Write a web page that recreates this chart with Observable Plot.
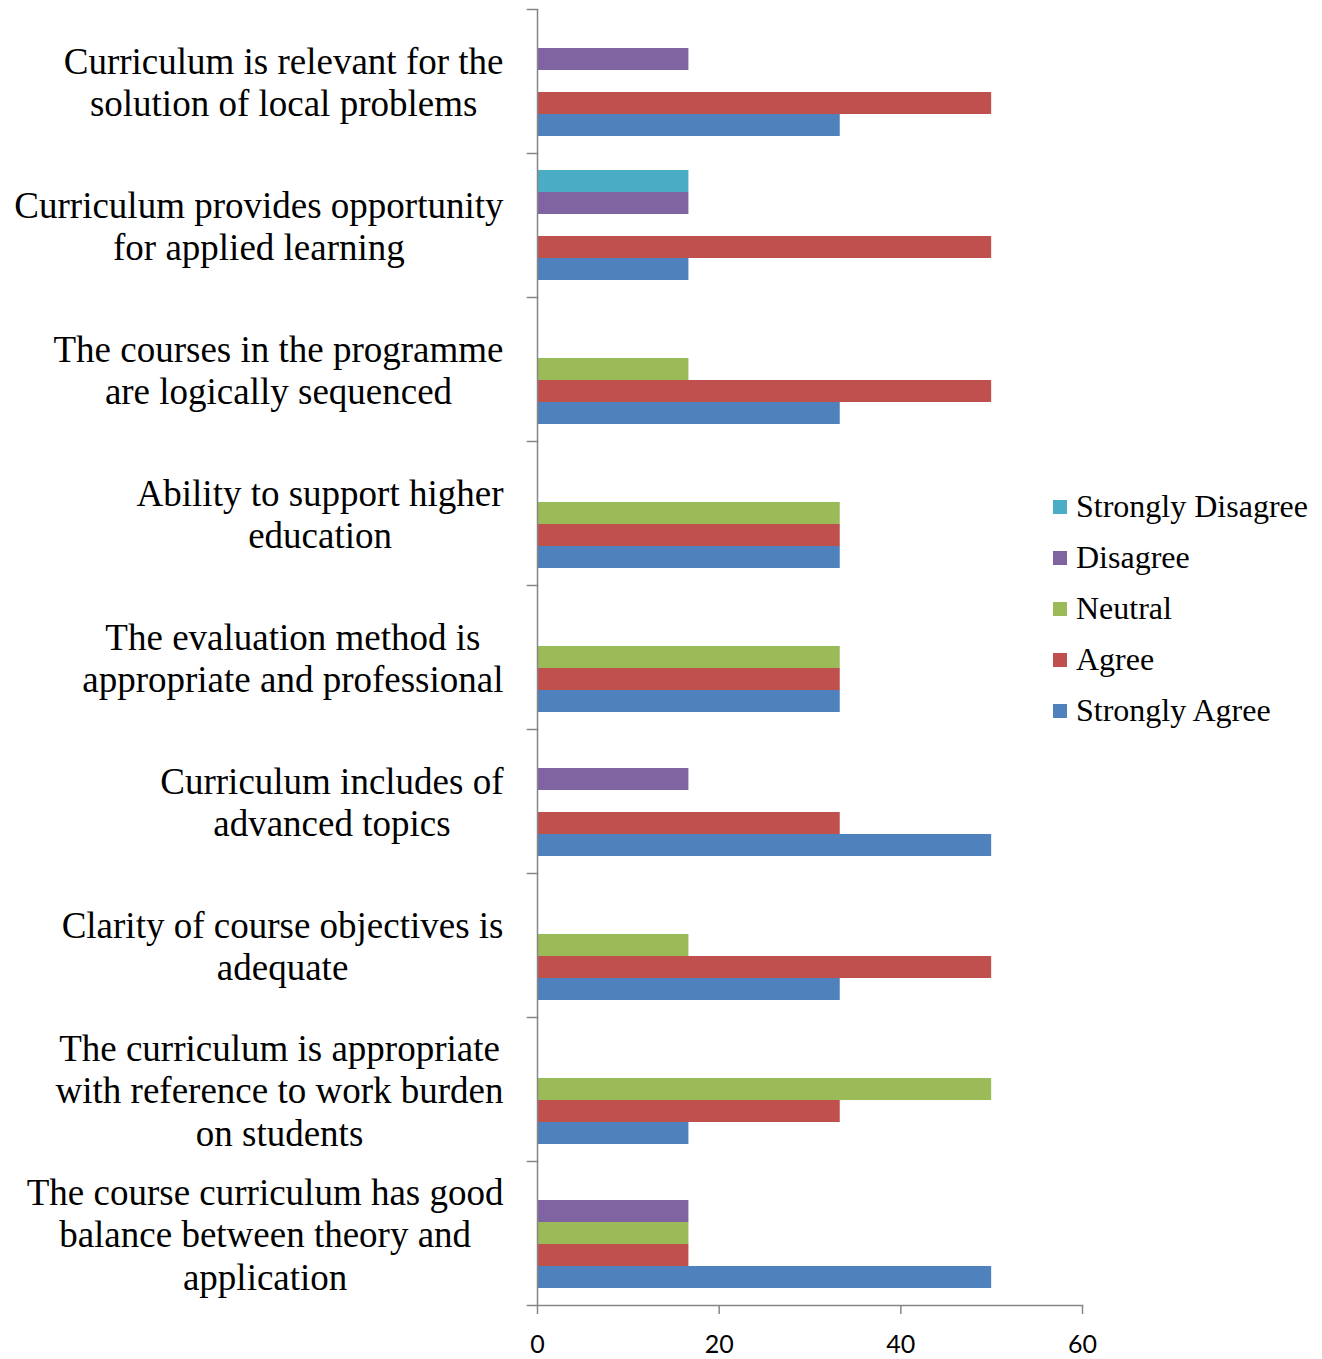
<!DOCTYPE html>
<html>
<head>
<meta charset="utf-8">
<script src="https://cdn.jsdelivr.net/npm/d3@7"></script>
<script src="https://cdn.jsdelivr.net/npm/@observablehq/plot@0.6"></script>
<style>
  html, body { margin: 0; padding: 0; background: white; }
  #wrap { position: relative; width: 1322px; height: 1359px; }
  #legend { position: absolute; left: 1053px; top: 481px; }
  .lg-swatches { font-family: "Liberation Serif", serif !important; font-size: 32px !important; margin: 0 !important; color: #000; }
  .lg-swatch { line-height: 51px; padding-bottom: 0 !important; }
  .lg-swatch > svg { margin-right: 9px !important; }
</style>
</head>
<body>
<div id="wrap"><div id="chart"></div><div id="legend"></div></div>
<script>
const categories = [
  "Curriculum is relevant for the solution of local problems",
  "Curriculum provides opportunity for applied learning",
  "The courses in the programme are logically sequenced",
  "Ability to support higher education",
  "The evaluation method is appropriate and professional",
  "Curriculum includes of advanced topics",
  "Clarity of course objectives is adequate",
  "The curriculum is appropriate with reference to work burden on students",
  "The course curriculum has good balance between theory and application"
];
const labels = [
  "Curriculum is relevant for the\nsolution of local problems",
  "Curriculum provides opportunity\nfor applied learning",
  "The courses in the programme\nare logically sequenced",
  "Ability to support higher\neducation",
  "The evaluation method is\nappropriate and professional",
  "Curriculum includes of\nadvanced topics",
  "Clarity of course objectives is\nadequate",
  "The curriculum is appropriate\nwith reference to work burden\non students",
  "The course curriculum has good\nbalance between theory and\napplication"
];
const seriesNames = ["Strongly Disagree", "Disagree", "Neutral", "Agree", "Strongly Agree"];
const seriesColors = ["#4BACC6", "#8064A2", "#9BBB59", "#C0504D", "#4F81BD"];
const stronglyDisagree = [0, 16.67, 0, 0, 0, 0, 0, 0, 0];
const disagree         = [16.67, 16.67, 0, 0, 0, 16.67, 0, 0, 16.67];
const neutral          = [0, 0, 16.67, 33.33, 33.33, 0, 16.67, 50, 16.67];
const agree            = [50, 50, 50, 33.33, 33.33, 33.33, 50, 33.33, 16.67];
const stronglyAgree    = [33.33, 16.67, 33.33, 33.33, 33.33, 50, 33.33, 16.67, 50];
const xTicks = [0, 20, 40, 60];

const seriesValues = [stronglyDisagree, disagree, neutral, agree, stronglyAgree];
const rows = [];
categories.forEach((c, i) => {
  seriesNames.forEach((s, j) => rows.push({category: c, series: s, value: seriesValues[j][i]}));
});
const labelRows = categories.map((c, i) => ({category: c, label: labels[i]}));
const lastCat = categories[categories.length - 1];
const axisColor = "#868686";

const W = 1322, H = 1359, mL = 537, mR = 240;

const plot = Plot.plot({
  width: W, height: H,
  marginLeft: mL, marginRight: mR, marginTop: 9, marginBottom: 54,
  style: {background: "white", fontFamily: "Liberation Serif", color: "#000"},
  x: {domain: [0, 60], axis: null},
  y: {domain: seriesNames, paddingInner: 0, paddingOuter: 0.73, axis: null},
  fy: {domain: categories, padding: 0, axis: null, label: null},
  color: {domain: seriesNames, range: seriesColors},
  marks: [
    Plot.barX(rows.filter(d => d.value > 0), {fy: "category", y: "series", x: "value", fill: "series"}),
    Plot.ruleX([0], {stroke: axisColor, strokeWidth: 1.5}),
    Plot.frame({anchor: "top", insetLeft: -10, insetRight: W - mL - mR, stroke: axisColor, strokeWidth: 1.5}),
    Plot.frame({anchor: "bottom", insetLeft: -10, fy: () => lastCat, stroke: axisColor, strokeWidth: 1.5}),
    Plot.axisX({ticks: xTicks, tickSize: 9, tickPadding: 21, stroke: axisColor, strokeWidth: 1.5,
      fontSize: 25, fontFamily: "Lato", fill: "#000", label: null}),
    Plot.text(labelRows, {fy: "category", text: "label", frameAnchor: "left", dx: -34, textAnchor: "end",
      lineAnchor: "middle", lineHeight: 1.15, fontSize: 37, fontFamily: "Liberation Serif", fill: "#000"})
  ]
});
document.getElementById("chart").append(plot);

// center multi-line labels while keeping the longest line flush right
plot.querySelectorAll('g[aria-label="text"] text').forEach(t => {
  const spans = t.querySelectorAll("tspan");
  let w = 0;
  if (spans.length) spans.forEach(s => { w = Math.max(w, s.getComputedTextLength()); });
  else w = t.getComputedTextLength();
  t.setAttribute("text-anchor", "middle");
  const tr = t.getAttribute("transform") || "";
  t.setAttribute("transform", tr + ` translate(${-w / 2},0)`);
});

const legend = Plot.legend({
  color: {domain: seriesNames, range: seriesColors},
  legend: "swatches", columns: 1, swatchSize: 14, className: "lg"
});
document.getElementById("legend").append(legend);
</script>
</body>
</html>
